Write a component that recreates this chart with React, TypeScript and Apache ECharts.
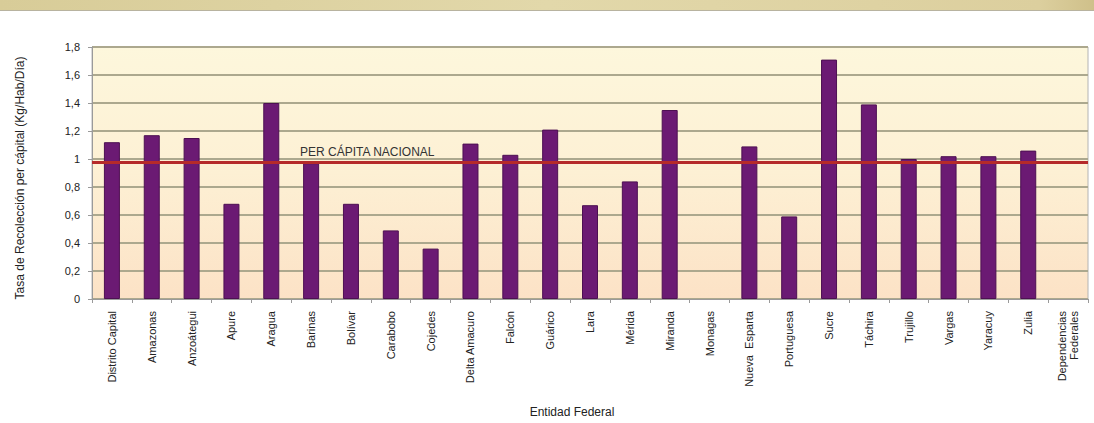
import React, { useEffect, useRef } from "react";
import * as echarts from "echarts";

const categories: string[] = [
  "Distrito Capital", "Amazonas", "Anzoátegui", "Apure", "Aragua", "Barinas",
  "Bolívar", "Carabobo", "Cojedes", "Delta Amacuro", "Falcón", "Guárico",
  "Lara", "Mérida", "Miranda", "Monagas", "Nueva  Esparta", "Portuguesa",
  "Sucre", "Táchira", "Trujillo", "Vargas", "Yaracuy", "Zulia",
  "Dependencias\nFederales",
];

const tasa: (number | null)[] = [
  1.12, 1.17, 1.15, 0.68, 1.4, 0.97,
  0.68, 0.49, 0.36, 1.11, 1.03, 1.21,
  0.67, 0.84, 1.35, null, 1.09, 0.59,
  1.71, 1.39, 1.0, 1.02, 1.02, 1.06,
  null,
];

const perCapitaNacional = 0.98;
const perCapitaLabel = "PER CÁPITA NACIONAL";
const yAxisName = "Tasa de Recolección per cápital (Kg/Hab/Día)";
const xAxisName = "Entidad Federal";
const yMin = 0;
const yMax = 1.8;
const yInterval = 0.2;

const FONT = "'Liberation Sans', Arial, sans-serif";

export default function App() {
  const ref = useRef<HTMLDivElement>(null);

  useEffect(() => {
    document.body.style.margin = "0";
    if (!ref.current) return;
    const chart = echarts.init(ref.current, null, { renderer: "svg" });
    chart.setOption({
      animation: false,
      backgroundColor: "#ffffff",
      textStyle: { fontFamily: FONT },
      grid: {
        left: 92,
        right: 6,
        top: 47,
        bottom: 124,
        show: true,
        borderColor: "#b4b4b4",
        borderWidth: 1,
        backgroundColor: {
          type: "linear",
          x: 0, y: 0, x2: 0, y2: 1,
          colorStops: [
            { offset: 0, color: "#fdf7dc" },
            { offset: 0.5, color: "#fdf0d4" },
            { offset: 1, color: "#fce2c6" },
          ],
        },
      },
      xAxis: {
        type: "category",
        data: categories,
        axisLine: { show: true, lineStyle: { color: "#9a9a9a", width: 1 } },
        axisTick: { show: true, length: 4, lineStyle: { color: "#9a9a9a" } },
        axisLabel: {
          interval: 0,
          rotate: 90,
          fontSize: 11,
          color: "#222222",
          margin: 12,
          fontFamily: FONT,
          lineHeight: 12,
        },
      },
      yAxis: {
        type: "value",
        min: yMin,
        max: yMax,
        interval: yInterval,
        axisLine: { show: true, lineStyle: { color: "#9a9a9a", width: 1 } },
        axisTick: { show: true, length: 4, lineStyle: { color: "#9a9a9a" } },
        axisLabel: {
          fontSize: 11,
          color: "#222222",
          margin: 12,
          fontFamily: FONT,
          formatter: (v: number) => String(Math.round(v * 10) / 10).replace(".", ","),
        },
        splitLine: { show: true, lineStyle: { color: "#aca88e", width: 2 } },
      },
      series: [
        {
          type: "bar",
          data: tasa,
          barWidth: 16,
          itemStyle: { color: "#6b1a73", borderColor: "#4d1052", borderWidth: 1 },
          markLine: {
            silent: true,
            symbol: "none",
            label: { show: false },
            lineStyle: { color: "#b52a2a", width: 3, type: "solid" },
            data: [{ yAxis: perCapitaNacional }],
          },
          z: 2,
        },
      ],
      graphic: [
        {
          type: "rect",
          shape: { x: 0, y: 0, width: 1094, height: 10 },
          style: {
            fill: {
              type: "linear",
              x: 0, y: 0, x2: 1, y2: 0,
              colorStops: [
                { offset: 0, color: "#d8cc98" },
                { offset: 0.5, color: "#e2d8aa" },
                { offset: 0.95, color: "#dccf9e" },
                { offset: 1, color: "#cfc08a" },
              ],
            },
          },
        },
        {
          type: "rect",
          shape: { x: 0, y: 10, width: 1094, height: 1 },
          style: { fill: "#b8b3a0" },
        },
        {
          type: "text",
          x: 300,
          y: 152,
          style: {
            text: perCapitaLabel,
            fontSize: 12,
            fontFamily: FONT,
            fill: "#333333",
            textAlign: "left",
            textVerticalAlign: "middle",
          },
          z: 10,
        },
        {
          type: "text",
          x: 20,
          y: 178,
          rotation: Math.PI / 2,
          style: {
            text: yAxisName,
            fontSize: 12,
            fontFamily: FONT,
            fill: "#222222",
            textAlign: "center",
            textVerticalAlign: "middle",
          },
        },
        {
          type: "text",
          x: 572,
          y: 412,
          style: {
            text: xAxisName,
            fontSize: 12,
            fontFamily: FONT,
            fill: "#222222",
            textAlign: "center",
            textVerticalAlign: "middle",
          },
        },
      ],
    });
    return () => chart.dispose();
  }, []);

  return <div ref={ref} style={{ width: 1094, height: 423 }} />;
}
